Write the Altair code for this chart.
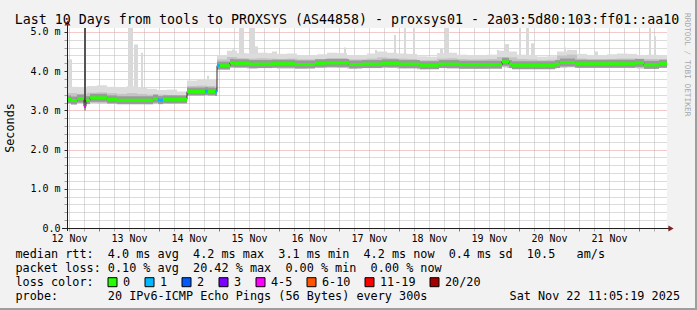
import altair as alt
import pandas as pd

MONO = "DejaVu Sans Mono"
NB = "\u00a0"

# ---------------- data (hours since Nov 12 11:05, values in ms) ----------------
med_start = [0, 1.6, 4, 6.8, 7.6, 9.2, 16, 20, 34.4, 36.4,
             38.4, 48, 55.2, 56.4, 59.2, 60, 61.2, 65.2, 66.8, 72.8,
             82, 91.2, 99.2, 103.2, 112.8, 118, 126, 132.8, 141.2, 148.8,
             156.8, 174, 176.8, 178, 195.2, 197.2, 203.2, 227.2, 230.8, 236.8]
med_value = [3.28, 3.25, 3.30, 3.10, 3.26, 3.32, 3.28, 3.26, 3.30, 3.26,
             3.28, 3.48, 3.49, 3.48, 3.47, 4.14, 4.14, 4.21, 4.20, 4.18,
             4.19, 4.17, 4.20, 4.21, 4.17, 4.18, 4.20, 4.18, 4.15, 4.18,
             4.16, 4.24, 4.18, 4.15, 4.18, 4.22, 4.19, 4.21, 4.16, 4.19]
med_loss = ["0", "0", "0", "4-5", "0", "0", "0", "0", "0", "1",
            "0", "0", "1", "0", "1", "1", "0"] + ["0"] * 23

# smoke, 4-hour bins
smoke_hi = [3.60, 3.58, 3.62, 3.64, 3.60, 3.57, 3.62, 3.58, 3.55, 3.52, 3.53, 3.48,
            3.76, 3.78, 3.80,
            4.41, 4.52, 4.46, 4.45, 4.47, 4.46, 4.44, 4.45, 4.41, 4.40, 4.43, 4.47,
            4.46, 4.41, 4.40, 4.45, 4.50, 4.47, 4.45, 4.44, 4.38, 4.37, 4.46, 4.47,
            4.42, 4.41, 4.40, 4.42, 4.52, 4.50, 4.42, 4.41, 4.37, 4.38, 4.50, 4.54,
            4.44, 4.41, 4.40, 4.43, 4.45, 4.44, 4.41, 4.42, 4.40]
smoke_mid = [3.44, 3.42, 3.45, 3.46, 3.44, 3.42, 3.44, 3.42, 3.40, 3.40, 3.39, 3.38,
             3.62, 3.63, 3.62,
             4.30, 4.36, 4.33, 4.32, 4.33, 4.32, 4.31, 4.32, 4.30, 4.30, 4.31, 4.33,
             4.33, 4.30, 4.30, 4.32, 4.35, 4.33, 4.32, 4.31, 4.28, 4.28, 4.32, 4.33,
             4.31, 4.30, 4.30, 4.31, 4.36, 4.35, 4.31, 4.30, 4.28, 4.29, 4.40, 4.42,
             4.32, 4.30, 4.30, 4.31, 4.32, 4.32, 4.31, 4.31, 4.30]
smoke_lo = [3.18, 3.18, 3.19, 3.18, 3.17, 3.17, 3.18, 3.17, 3.16, 3.18, 3.17, 3.18,
            3.40, 3.41, 3.40,
            4.06, 4.08, 4.08, 4.07, 4.08, 4.08, 4.07, 4.07, 4.07, 4.08, 4.08, 4.09,
            4.08, 4.07, 4.08, 4.08, 4.09, 4.08, 4.07, 4.07, 4.05, 4.06, 4.08, 4.07,
            4.07, 4.07, 4.07, 4.08, 4.10, 4.08, 4.07, 4.06, 4.06, 4.07, 4.09, 4.10,
            4.08, 4.08, 4.08, 4.08, 4.08, 4.08, 4.07, 4.07, 4.08]
BIN_H = 4

# tall single-ping spikes
spike_start = [0.4, 24.4, 26.8, 29.6, 56.0, 66.0, 68.8, 73.2, 75.2, 82.0, 110.8, 123.2,
               130.8, 134.8, 138.4, 149.2, 151.2, 172.0, 175.2, 180.8, 183.6, 185.6,
               198.8, 200.8, 211.2, 232.8, 234.8]
spike_end = [2.0, 26.4, 28.4, 30.4, 56.8, 67.2, 70.8, 75.2, 76.4, 84.0, 111.6, 124.0,
             131.6, 135.6, 139.2, 150.4, 152.8, 172.8, 176.8, 181.6, 184.8, 186.8,
             199.6, 201.2, 212.4, 233.6, 235.6]
spike_top = [4.30, 5.10, 4.68, 4.47, 3.88, 4.55, 5.10, 5.10, 4.63, 4.50, 4.60, 4.54,
             4.92, 5.10, 5.10, 4.58, 5.10, 4.54, 4.69, 5.10, 5.10, 4.71,
             4.60, 4.55, 4.50, 5.10, 4.89]

# loss burst (dark column)
burst_start = [6.8]
burst_end = [7.6]
burst_lo = [3.10]
burst_hi = [5.10]

loss_labels = ["0", "1", "2", "3", "4-5", "6-10", "11-19", "20/20"]
loss_colors = ["#26ff00", "#00b8ff", "#0059ff", "#7e00ff", "#ff00ff", "#ff5500", "#ff0000", "#a10000"]

x_tick_labels = ["12 Nov", "13 Nov", "14 Nov", "15 Nov", "16 Nov",
                 "17 Nov", "18 Nov", "19 Nov", "20 Nov", "21 Nov"]

title_text = "Last 10 Days from tools to PROXSYS (AS44858) - proxsys01 - 2a03:5d80:103:ff01::aa10"
legend_line1 = "median rtt:  4.0 ms avg  4.2 ms max  3.1 ms min  4.2 ms now  0.4 ms sd  10.5   am/s"
legend_line2 = "packet loss: 0.10 % avg  20.42 % max  0.00 % min  0.00 % now"
legend_line3 = "loss color:"
legend_line4 = "probe:       20 IPv6-ICMP Echo Pings (56 Bytes) every 300s"
date_text = "Sat Nov 22 11:05:19 2025"
watermark = "RRDTOOL / TOBI OETIKER"

# ---------------- tables ----------------
med_end = med_start[1:] + [240]
med_df = pd.DataFrame({"start": med_start, "end": med_end, "v": med_value, "loss": med_loss})
step_df = pd.DataFrame({"h": med_start + [240], "v": med_value + [med_value[-1]]})
smoke_df = pd.DataFrame({
    "start": [BIN_H * i for i in range(len(smoke_hi))],
    "end": [BIN_H * (i + 1) for i in range(len(smoke_hi))],
    "lo": smoke_lo, "mid": smoke_mid, "hi": smoke_hi,
})
spike_base = [smoke_lo[int(s // BIN_H)] for s in spike_start]
spike_df = pd.DataFrame({"start": spike_start, "end": spike_end, "lo": spike_base, "hi": spike_top})
burst_df = pd.DataFrame({"start": burst_start, "end": burst_end, "lo": burst_lo, "hi": burst_hi})

# ---------------- scales / axes ----------------
xs = alt.Scale(domain=[0, 240], nice=False, zero=False)
ys = alt.Scale(domain=[0, 5.1], nice=False, zero=True)

xvals = [round(0.8 + 6 * k, 1) for k in range(40)]
lab_arr = "[" + ",".join("'%s'" % s for s in x_tick_labels) + "]"
x_label_expr = ("(round((datum.value - 0.8) / 6) % 4 == 0) ? " + lab_arr +
                "[round((datum.value - 0.8) / 24)] : ''")
xaxis = alt.Axis(
    values=xvals, labelExpr=x_label_expr, title=None, domain=False,
    grid=True, gridDash=[1, 1], gridWidth=1, gridOpacity=1,
    gridColor={"condition": {"test": "round((datum.value - 0.8) / 6) % 4 == 2", "value": "#e99595"},
               "value": "#b8b8b8"},
    ticks=True, tickSize=3,
    tickColor={"condition": {"test": "round((datum.value - 0.8) / 6) % 4 == 2", "value": "#de4f4f"},
               "value": "#b0b0b0"},
    labelFont=MONO, labelFontSize=10, labelColor="black", labelPadding=2,
    labelFlush=False, labelOverlap=False, labelBound=False,
)
yvals = [round(0.2 * k, 1) for k in range(26)]
yaxis = alt.Axis(
    values=yvals, title=None, domain=False,
    labelExpr="datum.value == 0 ? '0.0' : (datum.value % 1 == 0 ? format(datum.value, '.1f') + ' m' : '')",
    grid=True, gridDash=[1, 1], gridWidth=1, gridOpacity=1,
    gridColor={"condition": {"test": "datum.value % 1 == 0", "value": "#e99595"}, "value": "#b8b8b8"},
    ticks=True, tickSize=3,
    tickColor={"condition": {"test": "datum.value % 1 == 0", "value": "#333333"}, "value": "#a0a0a0"},
    labelFont=MONO, labelFontSize=10, labelColor="black", labelPadding=4,
    labelOverlap=False, labelBound=False, labelFlush=False,
)


def X(f):
    return alt.X(f, type="quantitative", scale=xs, axis=xaxis)


def Y(f):
    return alt.Y(f, type="quantitative", scale=ys, axis=yaxis)


def band(df, lo, hi, color):
    return alt.Chart(df).mark_rect(color=color, clip=True).encode(
        x=X("start"), x2="end", y=Y(lo), y2=hi)


spikes = band(spike_df, "lo", "hi", "#d9d9d9")
smoke_light = band(smoke_df, "lo", "hi", "#dcdcdc")
smoke_mid = band(smoke_df, "lo", "mid", "#c4c4c4")
burst = band(burst_df, "lo", "hi", "#555555")

dark_band = alt.Chart(med_df).mark_rule(color="#9a9a9a", strokeWidth=8).encode(
    x=X("start"), x2="end", y=Y("v"))
step_line = alt.Chart(step_df).mark_line(interpolate="step-after", color="#3a2626", strokeWidth=1).encode(
    x=X("h"), y=Y("v"))
median = alt.Chart(med_df).mark_rule(strokeWidth=3).encode(
    x=X("start"), x2="end", y=Y("v"),
    color=alt.Color("loss:N", scale=alt.Scale(domain=loss_labels, range=loss_colors), legend=None))

one = pd.DataFrame({"a": [0]})


def hrule(x1, x2, y, color, w=1):
    return alt.Chart(one).mark_rule(color=color, strokeWidth=w).encode(
        x=alt.value(x1), x2=alt.value(x2), y=alt.value(y))


def vrule(x, y1, y2, color, w=1):
    return alt.Chart(one).mark_rule(color=color, strokeWidth=w).encode(
        x=alt.value(x), y=alt.value(y1), y2=alt.value(y2))


def txt(s, x, y, size=11.8, align="left", angle=0, color="black"):
    return alt.Chart(pd.DataFrame({"t": [s.replace(" ", NB)]})).mark_text(
        font=MONO, fontSize=size, align=align, baseline="alphabetic", angle=angle, color=color
    ).encode(text="t:N", x=alt.value(x), y=alt.value(y))


def tri(shape, x, y):
    return alt.Chart(one).mark_point(shape=shape, filled=True, size=36, color="#801f1f", opacity=1).encode(
        x=alt.value(x), y=alt.value(y))


layers = [spikes, smoke_light, smoke_mid, burst, dark_band, step_line, median]

# axis lines with arrows
layers += [
    vrule(0.5, -4, 203, "#1f1f1f"),
    hrule(-5, 604, 200.5, "#1f1f1f"),
    tri("triangle-up", 0.5, -5),
    tri("triangle-right", 604, 200.5),
]

# frame shading (right / bottom)
layers += [
    vrule(629, -28, 282, "#9e9e9e", 2),
    hrule(-67, 630, 281, "#9e9e9e", 2),
]

# texts
LX = -51.5
layers += [
    txt(title_text, 280, -4, size=13.3, align="center"),
    txt("Seconds", -53, 100, align="center", angle=270),
    txt(watermark, 618, 36.7, size=7.8, align="center", angle=90, color="#a8a8a8"),
    txt(legend_line1, LX, 230.3),
    txt(legend_line2, LX, 244.1),
    txt(legend_line3, LX, 257.9),
    txt(legend_line4, LX, 271.7),
    txt(date_text, 613, 271.7, align="right"),
]

# loss colour legend swatches
sx = 108 - 67
for lab, col in zip(loss_labels, loss_colors):
    layers.append(
        alt.Chart(one).mark_rect(fill=col, stroke="black", strokeWidth=1).encode(
            x=alt.value(sx), x2=alt.value(sx + 9), y=alt.value(249.7), y2=alt.value(258.7)))
    layers.append(txt(lab, sx + 15, 257.9))
    sx += 30 + 7 * len(lab)

chart = alt.layer(*layers).properties(
    width=600, height=200,
    padding={"left": 67, "top": 28, "right": 30, "bottom": 82},
    autosize=alt.AutoSizeParams(type="none"),
    background="#f2f2f2",
).configure_view(fill="white", stroke=None)

chart.save("out.html", embed_options={"renderer": "svg", "actions": False})
